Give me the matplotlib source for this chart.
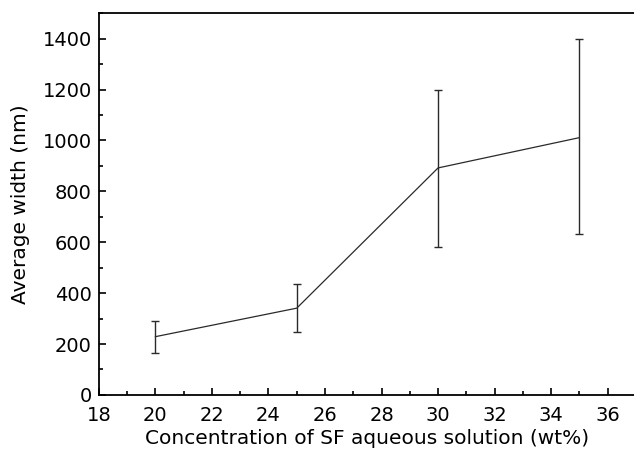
import matplotlib
matplotlib.use("Agg")
import matplotlib.pyplot as plt
from matplotlib.ticker import MultipleLocator

conc = [20, 25, 30, 35]
width = [229, 341, 892, 1011]
err_low = [63, 93, 312, 379]
err_high = [63, 95, 308, 386]

plt.rcParams['font.family'] = ['DejaVu Sans']

fig = plt.figure(figsize=(6.34, 4.55), dpi=100)
ax = fig.add_axes([0.156, 0.132, 0.847, 0.839])
ax.errorbar(conc, width, yerr=[err_low, err_high], color='#2a2a2a', lw=0.9,
            elinewidth=1.0, capsize=3, capthick=1.0)
ax.set_xlim(18, 37)
ax.set_ylim(0, 1500)
ax.xaxis.set_major_locator(MultipleLocator(2))
ax.xaxis.set_minor_locator(MultipleLocator(1))
ax.yaxis.set_major_locator(MultipleLocator(200))
ax.yaxis.set_minor_locator(MultipleLocator(100))
ax.tick_params(which='both', direction='in', top=False, right=False, labelsize=14, width=1.2)
ax.tick_params(which='major', length=5)
ax.tick_params(which='minor', length=3)
ax.tick_params(axis='x', which='major', pad=8)
ax.tick_params(axis='y', which='major', pad=5)
for s in ax.spines.values():
    s.set_linewidth(1.3)
ax.set_xlabel('Concentration of SF aqueous solution (wt%)', fontsize=14.5, labelpad=3)
ax.set_ylabel('Average width (nm)', fontsize=14.5, labelpad=9)
fig.savefig('out.png', dpi=100)
